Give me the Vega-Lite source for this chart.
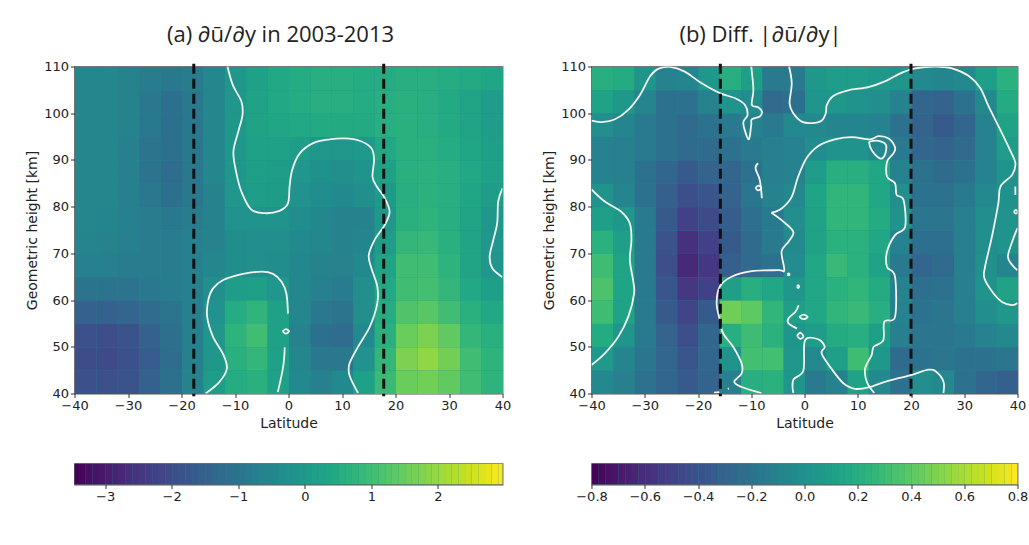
{"$schema":"https://vega.github.io/schema/vega-lite/v6.json","background":"white","padding":{"left":24.5,"top":22.5,"right":5,"bottom":5},"spacing":30,
"config":{"view":{"stroke":"#555","strokeWidth":1.2},"axis":{"grid":false,"labelFont":"DejaVu Sans","titleFont":"DejaVu Sans","labelFontSize":13,"titleFontSize":14,"titleFontWeight":"normal","labelColor":"#222","titleColor":"#222","tickColor":"#333","domain":false,"tickSize":4,"labelPadding":2,"labelFlush":false,"labelOverlap":false}},
"datasets":{
"a":[
{"x":-38,"y":107.5,"v":-0.5},{"x":-34,"y":107.5,"v":-0.5},{"x":-30,"y":107.5,"v":-0.6},{"x":-26,"y":107.5,"v":-0.8},{"x":-22,"y":107.5,"v":-0.9},{"x":-18,"y":107.5,"v":-0.8},{"x":-14,"y":107.5,"v":-0.5},{"x":-10,"y":107.5,"v":-0.1},{"x":-6,"y":107.5,"v":0.2},{"x":-2,"y":107.5,"v":0.4},{"x":2,"y":107.5,"v":0.5},{"x":6,"y":107.5,"v":0.55},{"x":10,"y":107.5,"v":0.55},{"x":14,"y":107.5,"v":0.5},{"x":18,"y":107.5,"v":0.5},{"x":22,"y":107.5,"v":0.55},{"x":26,"y":107.5,"v":0.55},{"x":30,"y":107.5,"v":0.5},{"x":34,"y":107.5,"v":0.45},{"x":38,"y":107.5,"v":0.35},
{"x":-38,"y":102.5,"v":-0.5},{"x":-34,"y":102.5,"v":-0.5},{"x":-30,"y":102.5,"v":-0.6},{"x":-26,"y":102.5,"v":-0.9},{"x":-22,"y":102.5,"v":-1.1},{"x":-18,"y":102.5,"v":-0.9},{"x":-14,"y":102.5,"v":-0.5},{"x":-10,"y":102.5,"v":-0.1},{"x":-6,"y":102.5,"v":0.25},{"x":-2,"y":102.5,"v":0.4},{"x":2,"y":102.5,"v":0.5},{"x":6,"y":102.5,"v":0.55},{"x":10,"y":102.5,"v":0.55},{"x":14,"y":102.5,"v":0.5},{"x":18,"y":102.5,"v":0.55},{"x":22,"y":102.5,"v":0.6},{"x":26,"y":102.5,"v":0.55},{"x":30,"y":102.5,"v":0.45},{"x":34,"y":102.5,"v":0.3},{"x":38,"y":102.5,"v":0.1},
{"x":-38,"y":97.5,"v":-0.5},{"x":-34,"y":97.5,"v":-0.5},{"x":-30,"y":97.5,"v":-0.6},{"x":-26,"y":97.5,"v":-0.9},{"x":-22,"y":97.5,"v":-1.1},{"x":-18,"y":97.5,"v":-0.9},{"x":-14,"y":97.5,"v":-0.5},{"x":-10,"y":97.5,"v":-0.05},{"x":-6,"y":97.5,"v":0.25},{"x":-2,"y":97.5,"v":0.35},{"x":2,"y":97.5,"v":0.4},{"x":6,"y":97.5,"v":0.45},{"x":10,"y":97.5,"v":0.45},{"x":14,"y":97.5,"v":0.45},{"x":18,"y":97.5,"v":0.55},{"x":22,"y":97.5,"v":0.6},{"x":26,"y":97.5,"v":0.55},{"x":30,"y":97.5,"v":0.45},{"x":34,"y":97.5,"v":0.3},{"x":38,"y":97.5,"v":0.1},
{"x":-38,"y":92.5,"v":-0.5},{"x":-34,"y":92.5,"v":-0.5},{"x":-30,"y":92.5,"v":-0.7},{"x":-26,"y":92.5,"v":-1},{"x":-22,"y":92.5,"v":-1.1},{"x":-18,"y":92.5,"v":-0.9},{"x":-14,"y":92.5,"v":-0.5},{"x":-10,"y":92.5,"v":-0.05},{"x":-6,"y":92.5,"v":0.2},{"x":-2,"y":92.5,"v":0.2},{"x":2,"y":92.5,"v":0.1},{"x":6,"y":92.5,"v":-0.05},{"x":10,"y":92.5,"v":-0.05},{"x":14,"y":92.5,"v":0},{"x":18,"y":92.5,"v":0.4},{"x":22,"y":92.5,"v":0.6},{"x":26,"y":92.5,"v":0.6},{"x":30,"y":92.5,"v":0.5},{"x":34,"y":92.5,"v":0.35},{"x":38,"y":92.5,"v":0.15},
{"x":-38,"y":87.5,"v":-0.5},{"x":-34,"y":87.5,"v":-0.5},{"x":-30,"y":87.5,"v":-0.7},{"x":-26,"y":87.5,"v":-1},{"x":-22,"y":87.5,"v":-1.2},{"x":-18,"y":87.5,"v":-0.9},{"x":-14,"y":87.5,"v":-0.5},{"x":-10,"y":87.5,"v":-0.05},{"x":-6,"y":87.5,"v":0.15},{"x":-2,"y":87.5,"v":0.1},{"x":2,"y":87.5,"v":-0.1},{"x":6,"y":87.5,"v":-0.25},{"x":10,"y":87.5,"v":-0.3},{"x":14,"y":87.5,"v":-0.15},{"x":18,"y":87.5,"v":0.2},{"x":22,"y":87.5,"v":0.6},{"x":26,"y":87.5,"v":0.65},{"x":30,"y":87.5,"v":0.55},{"x":34,"y":87.5,"v":0.4},{"x":38,"y":87.5,"v":0.2},
{"x":-38,"y":82.5,"v":-0.5},{"x":-34,"y":82.5,"v":-0.5},{"x":-30,"y":82.5,"v":-0.7},{"x":-26,"y":82.5,"v":-0.9},{"x":-22,"y":82.5,"v":-1.1},{"x":-18,"y":82.5,"v":-0.9},{"x":-14,"y":82.5,"v":-0.6},{"x":-10,"y":82.5,"v":-0.1},{"x":-6,"y":82.5,"v":0.1},{"x":-2,"y":82.5,"v":0.05},{"x":2,"y":82.5,"v":-0.2},{"x":6,"y":82.5,"v":-0.35},{"x":10,"y":82.5,"v":-0.4},{"x":14,"y":82.5,"v":-0.3},{"x":18,"y":82.5,"v":0.05},{"x":22,"y":82.5,"v":0.55},{"x":26,"y":82.5,"v":0.65},{"x":30,"y":82.5,"v":0.55},{"x":34,"y":82.5,"v":0.35},{"x":38,"y":82.5,"v":0.1},
{"x":-38,"y":77.5,"v":-0.5},{"x":-34,"y":77.5,"v":-0.55},{"x":-30,"y":77.5,"v":-0.7},{"x":-26,"y":77.5,"v":-0.8},{"x":-22,"y":77.5,"v":-0.9},{"x":-18,"y":77.5,"v":-0.8},{"x":-14,"y":77.5,"v":-0.6},{"x":-10,"y":77.5,"v":-0.2},{"x":-6,"y":77.5,"v":-0.15},{"x":-2,"y":77.5,"v":-0.15},{"x":2,"y":77.5,"v":-0.35},{"x":6,"y":77.5,"v":-0.45},{"x":10,"y":77.5,"v":-0.6},{"x":14,"y":77.5,"v":-0.6},{"x":18,"y":77.5,"v":-0.05},{"x":22,"y":77.5,"v":0.6},{"x":26,"y":77.5,"v":0.7},{"x":30,"y":77.5,"v":0.55},{"x":34,"y":77.5,"v":0.3},{"x":38,"y":77.5,"v":-0.05},
{"x":-38,"y":72.5,"v":-0.55},{"x":-34,"y":72.5,"v":-0.6},{"x":-30,"y":72.5,"v":-0.7},{"x":-26,"y":72.5,"v":-0.8},{"x":-22,"y":72.5,"v":-0.8},{"x":-18,"y":72.5,"v":-0.7},{"x":-14,"y":72.5,"v":-0.6},{"x":-10,"y":72.5,"v":-0.35},{"x":-6,"y":72.5,"v":-0.3},{"x":-2,"y":72.5,"v":-0.3},{"x":2,"y":72.5,"v":-0.4},{"x":6,"y":72.5,"v":-0.5},{"x":10,"y":72.5,"v":-0.6},{"x":14,"y":72.5,"v":-0.55},{"x":18,"y":72.5,"v":0.1},{"x":22,"y":72.5,"v":0.8},{"x":26,"y":72.5,"v":0.85},{"x":30,"y":72.5,"v":0.6},{"x":34,"y":72.5,"v":0.3},{"x":38,"y":72.5,"v":-0.1},
{"x":-38,"y":67.5,"v":-0.7},{"x":-34,"y":67.5,"v":-0.7},{"x":-30,"y":67.5,"v":-0.8},{"x":-26,"y":67.5,"v":-0.8},{"x":-22,"y":67.5,"v":-0.8},{"x":-18,"y":67.5,"v":-0.7},{"x":-14,"y":67.5,"v":-0.5},{"x":-10,"y":67.5,"v":-0.35},{"x":-6,"y":67.5,"v":-0.3},{"x":-2,"y":67.5,"v":-0.35},{"x":2,"y":67.5,"v":-0.45},{"x":6,"y":67.5,"v":-0.6},{"x":10,"y":67.5,"v":-0.65},{"x":14,"y":67.5,"v":-0.4},{"x":18,"y":67.5,"v":0.3},{"x":22,"y":67.5,"v":1},{"x":26,"y":67.5,"v":1},{"x":30,"y":67.5,"v":0.7},{"x":34,"y":67.5,"v":0.3},{"x":38,"y":67.5,"v":-0.1},
{"x":-38,"y":62.5,"v":-1},{"x":-34,"y":62.5,"v":-1},{"x":-30,"y":62.5,"v":-1},{"x":-26,"y":62.5,"v":-0.9},{"x":-22,"y":62.5,"v":-0.8},{"x":-18,"y":62.5,"v":-0.7},{"x":-14,"y":62.5,"v":-0.3},{"x":-10,"y":62.5,"v":0.1},{"x":-6,"y":62.5,"v":0.15},{"x":-2,"y":62.5,"v":-0.1},{"x":2,"y":62.5,"v":-0.5},{"x":6,"y":62.5,"v":-0.7},{"x":10,"y":62.5,"v":-0.8},{"x":14,"y":62.5,"v":-0.3},{"x":18,"y":62.5,"v":0.4},{"x":22,"y":62.5,"v":1},{"x":26,"y":62.5,"v":1.05},{"x":30,"y":62.5,"v":0.8},{"x":34,"y":62.5,"v":0.4},{"x":38,"y":62.5,"v":0.15},
{"x":-38,"y":57.5,"v":-1.5},{"x":-34,"y":57.5,"v":-1.5},{"x":-30,"y":57.5,"v":-1.4},{"x":-26,"y":57.5,"v":-1.2},{"x":-22,"y":57.5,"v":-1},{"x":-18,"y":57.5,"v":-0.7},{"x":-14,"y":57.5,"v":-0.2},{"x":-10,"y":57.5,"v":0.5},{"x":-6,"y":57.5,"v":0.75},{"x":-2,"y":57.5,"v":0.2},{"x":2,"y":57.5,"v":-0.5},{"x":6,"y":57.5,"v":-0.9},{"x":10,"y":57.5,"v":-1},{"x":14,"y":57.5,"v":-0.3},{"x":18,"y":57.5,"v":0.5},{"x":22,"y":57.5,"v":1.2},{"x":26,"y":57.5,"v":1.3},{"x":30,"y":57.5,"v":1},{"x":34,"y":57.5,"v":0.6},{"x":38,"y":57.5,"v":0.4},
{"x":-38,"y":52.5,"v":-1.9},{"x":-34,"y":52.5,"v":-1.95},{"x":-30,"y":52.5,"v":-1.8},{"x":-26,"y":52.5,"v":-1.5},{"x":-22,"y":52.5,"v":-1.1},{"x":-18,"y":52.5,"v":-0.7},{"x":-14,"y":52.5,"v":-0.1},{"x":-10,"y":52.5,"v":0.7},{"x":-6,"y":52.5,"v":1},{"x":-2,"y":52.5,"v":0.2},{"x":2,"y":52.5,"v":-0.6},{"x":6,"y":52.5,"v":-1.1},{"x":10,"y":52.5,"v":-1.2},{"x":14,"y":52.5,"v":-0.4},{"x":18,"y":52.5,"v":0.6},{"x":22,"y":52.5,"v":1.5},{"x":26,"y":52.5,"v":1.7},{"x":30,"y":52.5,"v":1.4},{"x":34,"y":52.5,"v":0.8},{"x":38,"y":52.5,"v":0.6},
{"x":-38,"y":47.5,"v":-2},{"x":-34,"y":47.5,"v":-2.05},{"x":-30,"y":47.5,"v":-1.9},{"x":-26,"y":47.5,"v":-1.6},{"x":-22,"y":47.5,"v":-1.2},{"x":-18,"y":47.5,"v":-0.7},{"x":-14,"y":47.5,"v":-0.05},{"x":-10,"y":47.5,"v":0.6},{"x":-6,"y":47.5,"v":0.8},{"x":-2,"y":47.5,"v":0.2},{"x":2,"y":47.5,"v":-0.5},{"x":6,"y":47.5,"v":-0.9},{"x":10,"y":47.5,"v":-0.9},{"x":14,"y":47.5,"v":-0.2},{"x":18,"y":47.5,"v":0.8},{"x":22,"y":47.5,"v":1.7},{"x":26,"y":47.5,"v":1.9},{"x":30,"y":47.5,"v":1.6},{"x":34,"y":47.5,"v":1},{"x":38,"y":47.5,"v":0.7},
{"x":-38,"y":42.5,"v":-1.9},{"x":-34,"y":42.5,"v":-1.9},{"x":-30,"y":42.5,"v":-1.8},{"x":-26,"y":42.5,"v":-1.5},{"x":-22,"y":42.5,"v":-1.1},{"x":-18,"y":42.5,"v":-0.6},{"x":-14,"y":42.5,"v":0.1},{"x":-10,"y":42.5,"v":0.5},{"x":-6,"y":42.5,"v":0.6},{"x":-2,"y":42.5,"v":0.2},{"x":2,"y":42.5,"v":-0.4},{"x":6,"y":42.5,"v":-0.7},{"x":10,"y":42.5,"v":-0.4},{"x":14,"y":42.5,"v":0.2},{"x":18,"y":42.5,"v":0.9},{"x":22,"y":42.5,"v":1.5},{"x":26,"y":42.5,"v":1.6},{"x":30,"y":42.5,"v":1.4},{"x":34,"y":42.5,"v":1},{"x":38,"y":42.5,"v":0.7}
],
"b":[
{"x":-38,"y":107.5,"v":0.2},{"x":-34,"y":107.5,"v":0.18},{"x":-30,"y":107.5,"v":0.03},{"x":-26,"y":107.5,"v":-0.1},{"x":-22,"y":107.5,"v":-0.08},{"x":-18,"y":107.5,"v":0.05},{"x":-14,"y":107.5,"v":0.2},{"x":-10,"y":107.5,"v":0.1},{"x":-6,"y":107.5,"v":-0.15},{"x":-2,"y":107.5,"v":-0.15},{"x":2,"y":107.5,"v":0.05},{"x":6,"y":107.5,"v":0.08},{"x":10,"y":107.5,"v":0.08},{"x":14,"y":107.5,"v":0.06},{"x":18,"y":107.5,"v":0.03},{"x":22,"y":107.5,"v":-0.05},{"x":26,"y":107.5,"v":-0.08},{"x":30,"y":107.5,"v":-0.05},{"x":34,"y":107.5,"v":0.1},{"x":38,"y":107.5,"v":0.22},
{"x":-38,"y":102.5,"v":0.12},{"x":-34,"y":102.5,"v":0.05},{"x":-30,"y":102.5,"v":-0.08},{"x":-26,"y":102.5,"v":-0.2},{"x":-22,"y":102.5,"v":-0.2},{"x":-18,"y":102.5,"v":-0.1},{"x":-14,"y":102.5,"v":0.02},{"x":-10,"y":102.5,"v":-0.03},{"x":-6,"y":102.5,"v":-0.25},{"x":-2,"y":102.5,"v":-0.22},{"x":2,"y":102.5,"v":0.03},{"x":6,"y":102.5,"v":0.05},{"x":10,"y":102.5,"v":0.02},{"x":14,"y":102.5,"v":-0.02},{"x":18,"y":102.5,"v":-0.1},{"x":22,"y":102.5,"v":-0.28},{"x":26,"y":102.5,"v":-0.3},{"x":30,"y":102.5,"v":-0.2},{"x":34,"y":102.5,"v":-0.05},{"x":38,"y":102.5,"v":0.18},
{"x":-38,"y":97.5,"v":-0.02},{"x":-34,"y":97.5,"v":-0.08},{"x":-30,"y":97.5,"v":-0.15},{"x":-26,"y":97.5,"v":-0.2},{"x":-22,"y":97.5,"v":-0.25},{"x":-18,"y":97.5,"v":-0.2},{"x":-14,"y":97.5,"v":-0.15},{"x":-10,"y":97.5,"v":-0.1},{"x":-6,"y":97.5,"v":-0.15},{"x":-2,"y":97.5,"v":-0.05},{"x":2,"y":97.5,"v":-0.05},{"x":6,"y":97.5,"v":-0.08},{"x":10,"y":97.5,"v":-0.08},{"x":14,"y":97.5,"v":-0.1},{"x":18,"y":97.5,"v":-0.2},{"x":22,"y":97.5,"v":-0.3},{"x":26,"y":97.5,"v":-0.35},{"x":30,"y":97.5,"v":-0.28},{"x":34,"y":97.5,"v":-0.1},{"x":38,"y":97.5,"v":0.12},
{"x":-38,"y":92.5,"v":-0.1},{"x":-34,"y":92.5,"v":-0.12},{"x":-30,"y":92.5,"v":-0.15},{"x":-26,"y":92.5,"v":-0.2},{"x":-22,"y":92.5,"v":-0.25},{"x":-18,"y":92.5,"v":-0.25},{"x":-14,"y":92.5,"v":-0.2},{"x":-10,"y":92.5,"v":-0.15},{"x":-6,"y":92.5,"v":-0.12},{"x":-2,"y":92.5,"v":-0.1},{"x":2,"y":92.5,"v":-0.03},{"x":6,"y":92.5,"v":0.02},{"x":10,"y":92.5,"v":0.02},{"x":14,"y":92.5,"v":-0.05},{"x":18,"y":92.5,"v":-0.15},{"x":22,"y":92.5,"v":-0.28},{"x":26,"y":92.5,"v":-0.3},{"x":30,"y":92.5,"v":-0.25},{"x":34,"y":92.5,"v":-0.1},{"x":38,"y":92.5,"v":0.08},
{"x":-38,"y":87.5,"v":-0.1},{"x":-34,"y":87.5,"v":-0.12},{"x":-30,"y":87.5,"v":-0.2},{"x":-26,"y":87.5,"v":-0.28},{"x":-22,"y":87.5,"v":-0.35},{"x":-18,"y":87.5,"v":-0.3},{"x":-14,"y":87.5,"v":-0.28},{"x":-10,"y":87.5,"v":-0.2},{"x":-6,"y":87.5,"v":-0.12},{"x":-2,"y":87.5,"v":-0.1},{"x":2,"y":87.5,"v":0.08},{"x":6,"y":87.5,"v":0.2},{"x":10,"y":87.5,"v":0.2},{"x":14,"y":87.5,"v":0.15},{"x":18,"y":87.5,"v":-0.1},{"x":22,"y":87.5,"v":-0.2},{"x":26,"y":87.5,"v":-0.25},{"x":30,"y":87.5,"v":-0.2},{"x":34,"y":87.5,"v":-0.1},{"x":38,"y":87.5,"v":0.02},
{"x":-38,"y":82.5,"v":0.02},{"x":-34,"y":82.5,"v":-0.08},{"x":-30,"y":82.5,"v":-0.2},{"x":-26,"y":82.5,"v":-0.32},{"x":-22,"y":82.5,"v":-0.42},{"x":-18,"y":82.5,"v":-0.38},{"x":-14,"y":82.5,"v":-0.3},{"x":-10,"y":82.5,"v":-0.18},{"x":-6,"y":82.5,"v":-0.1},{"x":-2,"y":82.5,"v":-0.05},{"x":2,"y":82.5,"v":0.13},{"x":6,"y":82.5,"v":0.25},{"x":10,"y":82.5,"v":0.25},{"x":14,"y":82.5,"v":0.15},{"x":18,"y":82.5,"v":-0.02},{"x":22,"y":82.5,"v":-0.2},{"x":26,"y":82.5,"v":-0.2},{"x":30,"y":82.5,"v":-0.15},{"x":34,"y":82.5,"v":-0.05},{"x":38,"y":82.5,"v":0},
{"x":-38,"y":77.5,"v":0.1},{"x":-34,"y":77.5,"v":0.05},{"x":-30,"y":77.5,"v":-0.15},{"x":-26,"y":77.5,"v":-0.35},{"x":-22,"y":77.5,"v":-0.5},{"x":-18,"y":77.5,"v":-0.45},{"x":-14,"y":77.5,"v":-0.33},{"x":-10,"y":77.5,"v":-0.22},{"x":-6,"y":77.5,"v":-0.15},{"x":-2,"y":77.5,"v":-0.02},{"x":2,"y":77.5,"v":0.12},{"x":6,"y":77.5,"v":0.25},{"x":10,"y":77.5,"v":0.25},{"x":14,"y":77.5,"v":0.18},{"x":18,"y":77.5,"v":0.02},{"x":22,"y":77.5,"v":-0.18},{"x":26,"y":77.5,"v":-0.18},{"x":30,"y":77.5,"v":-0.12},{"x":34,"y":77.5,"v":-0.02},{"x":38,"y":77.5,"v":0.02},
{"x":-38,"y":72.5,"v":0.22},{"x":-34,"y":72.5,"v":0.1},{"x":-30,"y":72.5,"v":-0.15},{"x":-26,"y":72.5,"v":-0.4},{"x":-22,"y":72.5,"v":-0.58},{"x":-18,"y":72.5,"v":-0.5},{"x":-14,"y":72.5,"v":-0.35},{"x":-10,"y":72.5,"v":-0.25},{"x":-6,"y":72.5,"v":-0.15},{"x":-2,"y":72.5,"v":-0.05},{"x":2,"y":72.5,"v":0.12},{"x":6,"y":72.5,"v":0.22},{"x":10,"y":72.5,"v":0.22},{"x":14,"y":72.5,"v":0.15},{"x":18,"y":72.5,"v":-0.1},{"x":22,"y":72.5,"v":-0.22},{"x":26,"y":72.5,"v":-0.22},{"x":30,"y":72.5,"v":-0.12},{"x":34,"y":72.5,"v":-0.02},{"x":38,"y":72.5,"v":0.02},
{"x":-38,"y":67.5,"v":0.3},{"x":-34,"y":67.5,"v":0.13},{"x":-30,"y":67.5,"v":-0.15},{"x":-26,"y":67.5,"v":-0.42},{"x":-22,"y":67.5,"v":-0.62},{"x":-18,"y":67.5,"v":-0.55},{"x":-14,"y":67.5,"v":-0.32},{"x":-10,"y":67.5,"v":-0.25},{"x":-6,"y":67.5,"v":-0.2},{"x":-2,"y":67.5,"v":-0.03},{"x":2,"y":67.5,"v":0.15},{"x":6,"y":67.5,"v":0.28},{"x":10,"y":67.5,"v":0.22},{"x":14,"y":67.5,"v":0.12},{"x":18,"y":67.5,"v":-0.15},{"x":22,"y":67.5,"v":-0.28},{"x":26,"y":67.5,"v":-0.25},{"x":30,"y":67.5,"v":-0.12},{"x":34,"y":67.5,"v":0},{"x":38,"y":67.5,"v":-0.08},
{"x":-38,"y":62.5,"v":0.35},{"x":-34,"y":62.5,"v":0.13},{"x":-30,"y":62.5,"v":-0.15},{"x":-26,"y":62.5,"v":-0.38},{"x":-22,"y":62.5,"v":-0.55},{"x":-18,"y":62.5,"v":-0.5},{"x":-14,"y":62.5,"v":0.1},{"x":-10,"y":62.5,"v":0.2},{"x":-6,"y":62.5,"v":0.15},{"x":-2,"y":62.5,"v":0.05},{"x":2,"y":62.5,"v":0.15},{"x":6,"y":62.5,"v":0.22},{"x":10,"y":62.5,"v":0.25},{"x":14,"y":62.5,"v":0.18},{"x":18,"y":62.5,"v":-0.1},{"x":22,"y":62.5,"v":-0.22},{"x":26,"y":62.5,"v":-0.2},{"x":30,"y":62.5,"v":-0.12},{"x":34,"y":62.5,"v":0.02},{"x":38,"y":62.5,"v":0.12},
{"x":-38,"y":57.5,"v":0.3},{"x":-34,"y":57.5,"v":0.12},{"x":-30,"y":57.5,"v":-0.15},{"x":-26,"y":57.5,"v":-0.35},{"x":-22,"y":57.5,"v":-0.48},{"x":-18,"y":57.5,"v":-0.35},{"x":-14,"y":57.5,"v":0.45},{"x":-10,"y":57.5,"v":0.4},{"x":-6,"y":57.5,"v":0.25},{"x":-2,"y":57.5,"v":0.1},{"x":2,"y":57.5,"v":0.15},{"x":6,"y":57.5,"v":0.25},{"x":10,"y":57.5,"v":0.28},{"x":14,"y":57.5,"v":0.2},{"x":18,"y":57.5,"v":-0.1},{"x":22,"y":57.5,"v":-0.2},{"x":26,"y":57.5,"v":-0.18},{"x":30,"y":57.5,"v":-0.12},{"x":34,"y":57.5,"v":-0.02},{"x":38,"y":57.5,"v":0.05},
{"x":-38,"y":52.5,"v":0.18},{"x":-34,"y":52.5,"v":0.03},{"x":-30,"y":52.5,"v":-0.15},{"x":-26,"y":52.5,"v":-0.3},{"x":-22,"y":52.5,"v":-0.42},{"x":-18,"y":52.5,"v":-0.28},{"x":-14,"y":52.5,"v":0.2},{"x":-10,"y":52.5,"v":0.3},{"x":-6,"y":52.5,"v":0.22},{"x":-2,"y":52.5,"v":0.03},{"x":2,"y":52.5,"v":0.08},{"x":6,"y":52.5,"v":0.18},{"x":10,"y":52.5,"v":0.2},{"x":14,"y":52.5,"v":0.1},{"x":18,"y":52.5,"v":-0.12},{"x":22,"y":52.5,"v":-0.18},{"x":26,"y":52.5,"v":-0.18},{"x":30,"y":52.5,"v":-0.15},{"x":34,"y":52.5,"v":-0.1},{"x":38,"y":52.5,"v":-0.05},
{"x":-38,"y":47.5,"v":0.06},{"x":-34,"y":47.5,"v":-0.08},{"x":-30,"y":47.5,"v":-0.18},{"x":-26,"y":47.5,"v":-0.28},{"x":-22,"y":47.5,"v":-0.38},{"x":-18,"y":47.5,"v":-0.28},{"x":-14,"y":47.5,"v":0.02},{"x":-10,"y":47.5,"v":0.32},{"x":-6,"y":47.5,"v":0.32},{"x":-2,"y":47.5,"v":0.05},{"x":2,"y":47.5,"v":-0.05},{"x":6,"y":47.5,"v":0.1},{"x":10,"y":47.5,"v":0.3},{"x":14,"y":47.5,"v":0.05},{"x":18,"y":47.5,"v":-0.25},{"x":22,"y":47.5,"v":-0.2},{"x":26,"y":47.5,"v":-0.18},{"x":30,"y":47.5,"v":-0.2},{"x":34,"y":47.5,"v":-0.2},{"x":38,"y":47.5,"v":-0.18},
{"x":-38,"y":42.5,"v":-0.05},{"x":-34,"y":42.5,"v":-0.12},{"x":-30,"y":42.5,"v":-0.2},{"x":-26,"y":42.5,"v":-0.28},{"x":-22,"y":42.5,"v":-0.35},{"x":-18,"y":42.5,"v":-0.3},{"x":-14,"y":42.5,"v":-0.12},{"x":-10,"y":42.5,"v":0.2},{"x":-6,"y":42.5,"v":0.22},{"x":-2,"y":42.5,"v":0.03},{"x":2,"y":42.5,"v":-0.15},{"x":6,"y":42.5,"v":-0.1},{"x":10,"y":42.5,"v":0.12},{"x":14,"y":42.5,"v":-0.05},{"x":18,"y":42.5,"v":-0.2},{"x":22,"y":42.5,"v":-0.02},{"x":26,"y":42.5,"v":-0.05},{"x":30,"y":42.5,"v":-0.2},{"x":34,"y":42.5,"v":-0.28},{"x":38,"y":42.5,"v":-0.32}
],
"ka":[
{"s":1,"i":1,"x":-11.4,"y":110},{"s":1,"i":2,"x":-10.4,"y":106},{"s":1,"i":3,"x":-8.8,"y":102.5},{"s":1,"i":4,"x":-8.6,"y":99.6},{"s":1,"i":5,"x":-9.4,"y":96},{"s":1,"i":6,"x":-10.3,"y":91.8},{"s":1,"i":7,"x":-9.8,"y":87.5},{"s":1,"i":8,"x":-8.8,"y":83.2},{"s":1,"i":9,"x":-7,"y":79.4},{"s":1,"i":10,"x":-4.5,"y":78.6},{"s":1,"i":11,"x":-1.7,"y":79.1},{"s":1,"i":12,"x":-0.1,"y":80.7},{"s":1,"i":13,"x":0.2,"y":84.3},{"s":1,"i":14,"x":0.7,"y":87.9},{"s":1,"i":15,"x":2.1,"y":91.4},{"s":1,"i":16,"x":4.6,"y":93.6},{"s":1,"i":17,"x":7.7,"y":94.4},{"s":1,"i":18,"x":10.5,"y":94.6},{"s":1,"i":19,"x":13.3,"y":94.1},{"s":1,"i":20,"x":15.5,"y":92.5},{"s":1,"i":21,"x":16,"y":90},{"s":1,"i":22,"x":15.7,"y":86.4},{"s":1,"i":23,"x":16.5,"y":84.3},{"s":1,"i":24,"x":18,"y":81.8},{"s":1,"i":25,"x":18.9,"y":78.9},{"s":1,"i":26,"x":18,"y":76.1},{"s":1,"i":27,"x":16.1,"y":72.9},{"s":1,"i":28,"x":15,"y":69.6},{"s":1,"i":29,"x":15.5,"y":66.8},{"s":1,"i":30,"x":16.6,"y":62.9},{"s":1,"i":31,"x":16.6,"y":59.3},{"s":1,"i":32,"x":15.2,"y":54.3},{"s":1,"i":33,"x":13,"y":50},{"s":1,"i":34,"x":11.4,"y":46.4},{"s":1,"i":35,"x":11.4,"y":43.9},{"s":1,"i":36,"x":13,"y":40.1},
{"s":2,"i":1,"x":-15.5,"y":40},{"s":2,"i":2,"x":-12.9,"y":42.5},{"s":2,"i":3,"x":-11.5,"y":45.4},{"s":2,"i":4,"x":-12.3,"y":48.6},{"s":2,"i":5,"x":-14.1,"y":52.1},{"s":2,"i":6,"x":-15.2,"y":56.4},{"s":2,"i":7,"x":-15,"y":60},{"s":2,"i":8,"x":-14.1,"y":62.5},{"s":2,"i":9,"x":-12.2,"y":64.3},{"s":2,"i":10,"x":-8.5,"y":65.6},{"s":2,"i":11,"x":-5,"y":66.1},{"s":2,"i":12,"x":-2.9,"y":65.6},{"s":2,"i":13,"x":-1.3,"y":63.9},{"s":2,"i":14,"x":-0.4,"y":61.4},{"s":2,"i":15,"x":-0.1,"y":57.1},
{"s":3,"i":1,"x":-0.7,"y":49.9},{"s":3,"i":2,"x":-1,"y":45.7},{"s":3,"i":3,"x":-2,"y":40.3},
{"s":4,"i":1,"x":40,"y":83.9},{"s":4,"i":2,"x":39.2,"y":81.1},{"s":4,"i":3,"x":39,"y":76.4},{"s":4,"i":4,"x":38.2,"y":72.5},{"s":4,"i":5,"x":37.6,"y":69.3},{"s":4,"i":6,"x":38.1,"y":66.8},{"s":4,"i":7,"x":40,"y":64.9},
{"s":5,"i":1,"x":-1.1,"y":53.3},{"s":5,"i":2,"x":-0.5,"y":53.8},{"s":5,"i":3,"x":0.1,"y":53.3},{"s":5,"i":4,"x":-0.5,"y":52.8},{"s":5,"i":5,"x":-1.1,"y":53.3}
],
"kb":[
{"s":1,"i":1,"x":-40,"y":98.4},{"s":1,"i":2,"x":-38.1,"y":98.1},{"s":1,"i":3,"x":-35.6,"y":98.7},{"s":1,"i":4,"x":-33.1,"y":100.7},{"s":1,"i":5,"x":-30.9,"y":103.9},{"s":1,"i":6,"x":-29,"y":107.9},{"s":1,"i":7,"x":-27.5,"y":109.5},{"s":1,"i":8,"x":-25.3,"y":109.9},{"s":1,"i":9,"x":-22.5,"y":108.9},{"s":1,"i":10,"x":-19.3,"y":106.4},{"s":1,"i":11,"x":-15.9,"y":104.3},{"s":1,"i":12,"x":-13,"y":103.2},{"s":1,"i":13,"x":-11.2,"y":101.8},{"s":1,"i":14,"x":-10.7,"y":99.6},{"s":1,"i":15,"x":-11.5,"y":97.9},{"s":1,"i":16,"x":-10.5,"y":94.4},{"s":1,"i":17,"x":-10,"y":97.5},{"s":1,"i":18,"x":-9.9,"y":98.7},{"s":1,"i":19,"x":-8.4,"y":99.3},{"s":1,"i":20,"x":-8,"y":100.4},{"s":1,"i":21,"x":-8.7,"y":101.3},{"s":1,"i":22,"x":-9.9,"y":101.8},{"s":1,"i":23,"x":-9.6,"y":105},{"s":1,"i":24,"x":-10,"y":110},
{"s":2,"i":1,"x":-2.9,"y":110},{"s":2,"i":2,"x":-2.4,"y":106.4},{"s":2,"i":3,"x":-2.8,"y":102.1},{"s":2,"i":4,"x":-2.1,"y":100},{"s":2,"i":5,"x":-0.5,"y":98.2},{"s":2,"i":6,"x":1.4,"y":97.9},{"s":2,"i":7,"x":3.2,"y":98.4},{"s":2,"i":8,"x":4,"y":100},{"s":2,"i":9,"x":4.2,"y":101.8},{"s":2,"i":10,"x":5.4,"y":103.7},{"s":2,"i":11,"x":8.2,"y":104.9},{"s":2,"i":12,"x":12,"y":105.6},{"s":2,"i":13,"x":15.1,"y":106.8},{"s":2,"i":14,"x":18.3,"y":108.7},{"s":2,"i":15,"x":20.8,"y":109.6},{"s":2,"i":16,"x":24.5,"y":110},{"s":2,"i":17,"x":27.7,"y":109.6},{"s":2,"i":18,"x":30.8,"y":108},{"s":2,"i":19,"x":33,"y":105.4},{"s":2,"i":20,"x":34.6,"y":101.4},{"s":2,"i":21,"x":37.1,"y":95.7},{"s":2,"i":22,"x":38.6,"y":92.1},{"s":2,"i":23,"x":39.6,"y":89.3},{"s":2,"i":24,"x":39,"y":86.8},{"s":2,"i":25,"x":36.8,"y":84.3},{"s":2,"i":26,"x":36.4,"y":80.7},{"s":2,"i":27,"x":35.2,"y":73.6},{"s":2,"i":28,"x":33.9,"y":67.1},{"s":2,"i":29,"x":33.8,"y":64.6},{"s":2,"i":30,"x":35.5,"y":61.4},{"s":2,"i":31,"x":37.1,"y":59.6},{"s":2,"i":32,"x":39,"y":58.9},{"s":2,"i":33,"x":40,"y":59.4},
{"s":3,"i":1,"x":40,"y":75.4},{"s":3,"i":2,"x":39,"y":72.5},{"s":3,"i":3,"x":38.2,"y":69.3},{"s":3,"i":4,"x":39,"y":67.5},{"s":3,"i":5,"x":40,"y":66.4},
{"s":4,"i":1,"x":-40,"y":83.7},{"s":4,"i":2,"x":-37.5,"y":81.1},{"s":4,"i":3,"x":-34.4,"y":78.9},{"s":4,"i":4,"x":-32.8,"y":76.4},{"s":4,"i":5,"x":-32.5,"y":72.9},{"s":4,"i":6,"x":-32.8,"y":68.6},{"s":4,"i":7,"x":-32.2,"y":64.3},{"s":4,"i":8,"x":-32,"y":61.4},{"s":4,"i":9,"x":-33.1,"y":56.4},{"s":4,"i":10,"x":-35,"y":52.1},{"s":4,"i":11,"x":-37.5,"y":48.6},{"s":4,"i":12,"x":-40,"y":46.1},
{"s":5,"i":1,"x":-6.2,"y":78.7},{"s":5,"i":2,"x":-4.3,"y":79.6},{"s":5,"i":3,"x":-2.4,"y":82.1},{"s":5,"i":4,"x":-1.2,"y":86.4},{"s":5,"i":5,"x":0.4,"y":90.4},{"s":5,"i":6,"x":2.6,"y":93},{"s":5,"i":7,"x":5.7,"y":94.4},{"s":5,"i":8,"x":8.9,"y":94.9},{"s":5,"i":9,"x":12.3,"y":94.4},{"s":5,"i":10,"x":13.9,"y":95.1},{"s":5,"i":11,"x":15.8,"y":94.6},{"s":5,"i":12,"x":17,"y":92.7},{"s":5,"i":13,"x":16.7,"y":91.4},{"s":5,"i":14,"x":15.5,"y":89.6},{"s":5,"i":15,"x":15.5,"y":86.4},{"s":5,"i":16,"x":17,"y":85},{"s":5,"i":17,"x":17.3,"y":82.5},{"s":5,"i":18,"x":18.6,"y":81.4},{"s":5,"i":19,"x":18.9,"y":75.7},{"s":5,"i":20,"x":17,"y":73.9},{"s":5,"i":21,"x":15.5,"y":70.4},{"s":5,"i":22,"x":15.5,"y":67.1},{"s":5,"i":23,"x":17,"y":65},{"s":5,"i":24,"x":17,"y":56.4},{"s":5,"i":25,"x":15,"y":55.4},{"s":5,"i":26,"x":14.8,"y":51.4},{"s":5,"i":27,"x":13,"y":50},{"s":5,"i":28,"x":12.6,"y":48.2},{"s":5,"i":29,"x":11.4,"y":45.4},{"s":5,"i":30,"x":11.7,"y":42.5},{"s":5,"i":31,"x":13.1,"y":40.1},
{"s":6,"i":1,"x":12.1,"y":93.9},{"s":6,"i":2,"x":12.6,"y":92.1},{"s":6,"i":3,"x":14.2,"y":90.3},{"s":6,"i":4,"x":15.1,"y":91.1},{"s":6,"i":5,"x":15.3,"y":93.2},{"s":6,"i":6,"x":13.9,"y":94.1},{"s":6,"i":7,"x":12.1,"y":93.9},
{"s":7,"i":1,"x":-6.2,"y":78.7},{"s":7,"i":2,"x":-4.3,"y":77.1},{"s":7,"i":3,"x":-2.1,"y":74.6},{"s":7,"i":4,"x":-3,"y":72.5},{"s":7,"i":5,"x":-4.3,"y":70.4},{"s":7,"i":6,"x":-3.8,"y":66.4},{"s":7,"i":7,"x":-4.9,"y":66.4},{"s":7,"i":8,"x":-9.9,"y":66.2},{"s":7,"i":9,"x":-13.7,"y":65},{"s":7,"i":10,"x":-15.9,"y":62.9},{"s":7,"i":11,"x":-16.5,"y":59.3},{"s":7,"i":12,"x":-15.9,"y":55.7},{"s":7,"i":13,"x":-15.3,"y":52.9},{"s":7,"i":14,"x":-13.4,"y":50},{"s":7,"i":15,"x":-11.8,"y":46.4},{"s":7,"i":16,"x":-11.8,"y":44.3},{"s":7,"i":17,"x":-13.2,"y":42.5},{"s":7,"i":18,"x":-11.8,"y":41.4},{"s":7,"i":19,"x":-8.1,"y":40.1},
{"s":8,"i":1,"x":-2.1,"y":40.1},{"s":8,"i":2,"x":-2.1,"y":42.9},{"s":8,"i":3,"x":-0.2,"y":45},{"s":8,"i":4,"x":0.1,"y":51.4},{"s":8,"i":5,"x":2.6,"y":51.6},{"s":8,"i":6,"x":3.8,"y":50},{"s":8,"i":7,"x":3.2,"y":48.6},{"s":8,"i":8,"x":5,"y":45.4},{"s":8,"i":9,"x":7.3,"y":42.2},{"s":8,"i":10,"x":9.5,"y":41},{"s":8,"i":11,"x":12,"y":41.3},{"s":8,"i":12,"x":15.1,"y":42.5},{"s":8,"i":13,"x":19.8,"y":43.9},{"s":8,"i":14,"x":23.3,"y":45.1},{"s":8,"i":15,"x":24.8,"y":44.6},{"s":8,"i":16,"x":26.1,"y":42.5},{"s":8,"i":17,"x":26.1,"y":40.1},
{"s":9,"i":1,"x":-1.1,"y":58.9},{"s":9,"i":2,"x":-1.7,"y":57.5},{"s":9,"i":3,"x":-3,"y":56.1},{"s":9,"i":4,"x":-3,"y":55},{"s":9,"i":5,"x":-1.4,"y":53.9},
{"s":10,"i":1,"x":-8.7,"y":89.3},{"s":10,"i":2,"x":-9.2,"y":88.2},{"s":10,"i":3,"x":-8.4,"y":85.7},{"s":10,"i":4,"x":-8,"y":81.8},
{"s":11,"i":1,"x":-9.2,"y":84},{"s":11,"i":2,"x":-8.7,"y":84.5},{"s":11,"i":3,"x":-8.1,"y":84},{"s":11,"i":4,"x":-8.7,"y":83.5},{"s":11,"i":5,"x":-9.2,"y":84},
{"s":12,"i":1,"x":-1,"y":56.4},{"s":12,"i":2,"x":-0.2,"y":56.9},{"s":12,"i":3,"x":0.6,"y":56.4},{"s":12,"i":4,"x":-0.2,"y":55.9},{"s":12,"i":5,"x":-1,"y":56.4},
{"s":13,"i":1,"x":-1.4,"y":52.3},{"s":13,"i":2,"x":-0.8,"y":53},{"s":13,"i":3,"x":-0.2,"y":52.2},{"s":13,"i":4,"x":-0.8,"y":51.7},{"s":13,"i":5,"x":-1.4,"y":52.3},
{"s":14,"i":1,"x":39.6,"y":84.3},{"s":14,"i":2,"x":39.6,"y":82.5},
{"s":15,"i":1,"x":39.3,"y":78.9},{"s":15,"i":2,"x":39.7,"y":79.3},{"s":15,"i":3,"x":40,"y":78.9},{"s":15,"i":4,"x":39.7,"y":78.5},{"s":15,"i":5,"x":39.3,"y":78.9},
{"s":16,"i":1,"x":-3.2,"y":65.5},{"s":16,"i":2,"x":-3,"y":65.7},{"s":16,"i":3,"x":-2.8,"y":65.5},{"s":16,"i":4,"x":-3,"y":65.3},{"s":16,"i":5,"x":-3.2,"y":65.5},
{"s":17,"i":1,"x":-1.4,"y":62.9},{"s":17,"i":2,"x":-1.2,"y":63.2},{"s":17,"i":3,"x":-1,"y":62.9},{"s":17,"i":4,"x":-1.2,"y":62.6},{"s":17,"i":5,"x":-1.4,"y":62.9},
{"s":18,"i":1,"x":-14.4,"y":41},{"s":18,"i":2,"x":-14.2,"y":41.1},
{"s":19,"i":1,"x":-17,"y":40.2},{"s":19,"i":2,"x":-16,"y":40.3}
],
"ra":[{"x":-17.7,"t":110.6,"b":39.4},{"x":17.8,"t":110.6,"b":39.4}],
"rb":[{"x":-15.8,"t":110.6,"b":39.4},{"x":20,"t":110.6,"b":39.4}],
"ca":[{"c":-3.45},{"c":-3.35},{"c":-3.25},{"c":-3.15},{"c":-3.05},{"c":-2.95},{"c":-2.85},{"c":-2.75},{"c":-2.65},{"c":-2.55},{"c":-2.45},{"c":-2.35},{"c":-2.25},{"c":-2.15},{"c":-2.05},{"c":-1.95},{"c":-1.85},{"c":-1.75},{"c":-1.65},{"c":-1.55},{"c":-1.45},{"c":-1.35},{"c":-1.25},{"c":-1.15},{"c":-1.05},{"c":-0.95},{"c":-0.85},{"c":-0.75},{"c":-0.65},{"c":-0.55},{"c":-0.45},{"c":-0.35},{"c":-0.25},{"c":-0.15},{"c":-0.05},{"c":0.05},{"c":0.15},{"c":0.25},{"c":0.35},{"c":0.45},{"c":0.55},{"c":0.65},{"c":0.75},{"c":0.85},{"c":0.95},{"c":1.05},{"c":1.15},{"c":1.25},{"c":1.35},{"c":1.45},{"c":1.55},{"c":1.65},{"c":1.75},{"c":1.85},{"c":1.95},{"c":2.05},{"c":2.15},{"c":2.25},{"c":2.35},{"c":2.45},{"c":2.55},{"c":2.65},{"c":2.75},{"c":2.85},{"c":2.95}],
"cb":[{"c":-0.7875},{"c":-0.7625},{"c":-0.7375},{"c":-0.7125},{"c":-0.6875},{"c":-0.6625},{"c":-0.6375},{"c":-0.6125},{"c":-0.5875},{"c":-0.5625},{"c":-0.5375},{"c":-0.5125},{"c":-0.4875},{"c":-0.4625},{"c":-0.4375},{"c":-0.4125},{"c":-0.3875},{"c":-0.3625},{"c":-0.3375},{"c":-0.3125},{"c":-0.2875},{"c":-0.2625},{"c":-0.2375},{"c":-0.2125},{"c":-0.1875},{"c":-0.1625},{"c":-0.1375},{"c":-0.1125},{"c":-0.0875},{"c":-0.0625},{"c":-0.0375},{"c":-0.0125},{"c":0.0125},{"c":0.0375},{"c":0.0625},{"c":0.0875},{"c":0.1125},{"c":0.1375},{"c":0.1625},{"c":0.1875},{"c":0.2125},{"c":0.2375},{"c":0.2625},{"c":0.2875},{"c":0.3125},{"c":0.3375},{"c":0.3625},{"c":0.3875},{"c":0.4125},{"c":0.4375},{"c":0.4625},{"c":0.4875},{"c":0.5125},{"c":0.5375},{"c":0.5625},{"c":0.5875},{"c":0.6125},{"c":0.6375},{"c":0.6625},{"c":0.6875},{"c":0.7125},{"c":0.7375},{"c":0.7625},{"c":0.7875}]
},
"resolve":{"scale":{"color":"independent"}},
"hconcat":[
{"spacing":31,"resolve":{"scale":{"color":"independent"}},"vconcat":[
{"width":428,"height":327,"view":{"fill":"#21908d"},
"title":{"text":"(a) ∂ū/∂y in 2003-2013","font":"Open Sans","fontSize":22,"fontWeight":"normal","color":"#222","offset":14,"dx":-8},
"layer":[
{"data":{"name":"a"},"mark":{"type":"rect"},"encoding":{
"x":{"field":"x","type":"quantitative","bin":{"extent":[-40,40],"step":4,"nice":false},"scale":{"domain":[-40,40],"nice":false},"title":"Latitude","axis":{"values":[-40,-30,-20,-10,0,10,20,30,40],"format":"d"}},
"y":{"field":"y","type":"quantitative","bin":{"extent":[40,110],"step":5,"nice":false},"scale":{"domain":[40,110],"nice":false},"title":"Geometric height [km]","axis":{"values":[40,50,60,70,80,90,100,110],"format":"d"}},
"color":{"field":"v","type":"quantitative","scale":{"scheme":"viridis","domain":[-3.46,2.97]},"legend":null}}},
{"data":{"name":"ka"},"mark":{"type":"line","color":"#f2f5ee","strokeWidth":1.8,"interpolate":"cardinal","clip":true},"encoding":{"x":{"field":"x","type":"quantitative","title":"Latitude"},"y":{"field":"y","type":"quantitative","title":"Geometric height [km]"},"detail":{"field":"s"},"order":{"field":"i","type":"quantitative"}}},
{"data":{"name":"ra"},"mark":{"type":"rule","color":"#111","strokeWidth":3,"strokeDash":[10,5]},"encoding":{"x":{"field":"x","type":"quantitative","title":"Latitude"},"y":{"field":"t","type":"quantitative","title":"Geometric height [km]"},"y2":{"field":"b"}}}
]},
{"width":428,"height":21,"view":{"fill":"#21908d"},"data":{"name":"ca"},"mark":{"type":"rect","clip":true},"encoding":{
"x":{"field":"c","type":"quantitative","bin":{"extent":[-3.5,3],"step":0.1,"nice":false},"scale":{"domain":[-3.46,2.97],"nice":false},"axis":{"values":[-3,-2,-1,0,1,2],"format":"d","title":null}},
"color":{"field":"c","type":"quantitative","scale":{"scheme":"viridis","domain":[-3.46,2.97]},"legend":null}}}
]},
{"spacing":31,"resolve":{"scale":{"color":"independent"}},"vconcat":[
{"width":426,"height":327,"view":{"fill":"#21908d"},
"title":{"text":"(b) Diff. |∂ū/∂y|","font":"Open Sans","fontSize":22,"fontWeight":"normal","color":"#222","offset":14,"dx":-44},
"layer":[
{"data":{"name":"b"},"mark":{"type":"rect"},"encoding":{
"x":{"field":"x","type":"quantitative","bin":{"extent":[-40,40],"step":4,"nice":false},"scale":{"domain":[-40,40],"nice":false},"title":"Latitude","axis":{"values":[-40,-30,-20,-10,0,10,20,30,40],"format":"d"}},
"y":{"field":"y","type":"quantitative","bin":{"extent":[40,110],"step":5,"nice":false},"scale":{"domain":[40,110],"nice":false},"title":"Geometric height [km]","axis":{"values":[40,50,60,70,80,90,100,110],"format":"d"}},
"color":{"field":"v","type":"quantitative","scale":{"scheme":"viridis","domain":[-0.8,0.8]},"legend":null}}},
{"data":{"name":"kb"},"mark":{"type":"line","color":"#f2f5ee","strokeWidth":1.8,"interpolate":"cardinal","clip":true},"encoding":{"x":{"field":"x","type":"quantitative","title":"Latitude"},"y":{"field":"y","type":"quantitative","title":"Geometric height [km]"},"detail":{"field":"s"},"order":{"field":"i","type":"quantitative"}}},
{"data":{"name":"rb"},"mark":{"type":"rule","color":"#111","strokeWidth":3,"strokeDash":[10,5]},"encoding":{"x":{"field":"x","type":"quantitative","title":"Latitude"},"y":{"field":"t","type":"quantitative","title":"Geometric height [km]"},"y2":{"field":"b"}}}
]},
{"width":426,"height":21,"view":{"fill":"#21908d"},"data":{"name":"cb"},"mark":{"type":"rect","clip":true},"encoding":{
"x":{"field":"c","type":"quantitative","bin":{"extent":[-0.8,0.8],"step":0.025,"nice":false},"scale":{"domain":[-0.8,0.8],"nice":false},"axis":{"values":[-0.8,-0.6,-0.4,-0.2,0,0.2,0.4,0.6,0.8],"format":".1f","title":null}},
"color":{"field":"c","type":"quantitative","scale":{"scheme":"viridis","domain":[-0.8,0.8]},"legend":null}}}
]}
]}
